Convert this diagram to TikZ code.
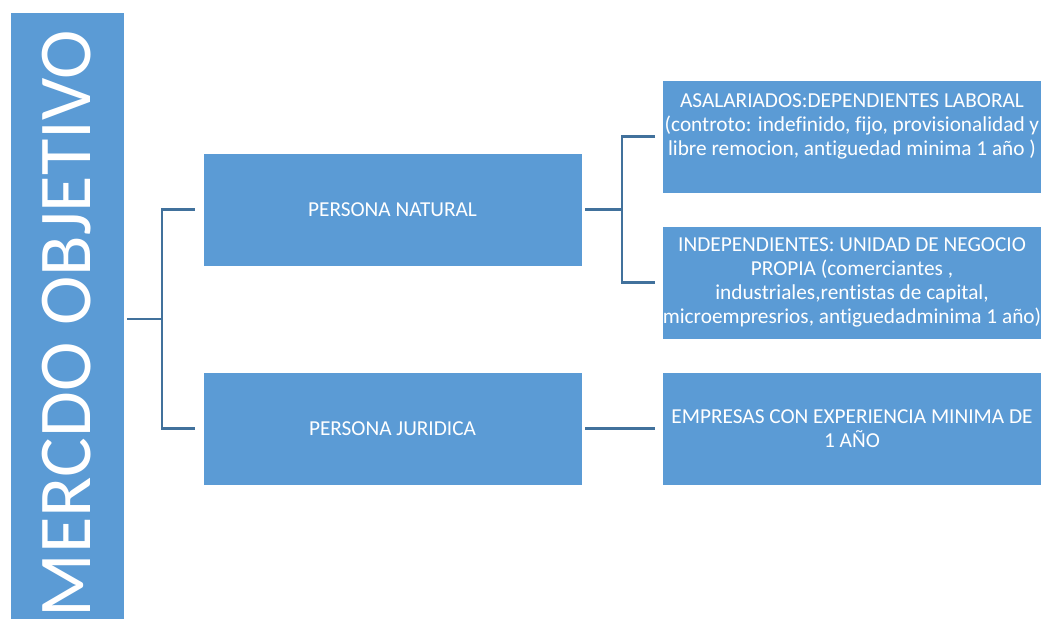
\documentclass[tikz,border=0pt]{standalone}
\usepackage{fontspec}
\setmainfont{Carlito}[Ligatures=NoCommon]
\usepackage{tikz}
\usetikzlibrary{positioning, calc}
\definecolor{boxblue}{HTML}{5B9BD5}
\definecolor{lineblue}{HTML}{41719C}

\begin{document}
\begin{tikzpicture}[
      x=1pt, y=-1pt,
      box/.style={fill=boxblue, draw=white, line width=0.6pt, text=white,
                  minimum width=379pt, minimum height=113pt, inner sep=0pt,
                  align=center, font=\fontsize{21.3}{24}\selectfont},
      link/.style={draw=lineblue, line width=2.4pt},
    ]
    \useasboundingbox (0,0) rectangle (1043,621);

    \node[box, minimum width=114pt, minimum height=607pt,
          font=\fontsize{74.5}{80}\selectfont] (mercado) at (67,315.5)
      {\rotatebox{90}{MERCDO OBJETIVO\kern16pt}};

    \node[box] (natural)  at (392.5,209.5) {PERSONA NATURAL};
    \node[box] (juridica) at (392.5,428.5) {PERSONA JURIDICA};

    \node[box] (asalariados) at (852,136.5)
      {ASALARIADOS:DEPENDIENTES LABORAL\\
       (controto: indefinido, fijo, provisionalidad y\\
       libre remocion, antiguedad minima 1 año )\\ \mbox{}};
    \node[box] (independientes) at (852,282.5)
      {INDEPENDIENTES: UNIDAD DE NEGOCIO\\
       PROPIA (comerciantes ,\\
       industriales,rentistas de capital,\\
       microempresrios, antiguedadminima 1 año)};
    \node[box] (empresas) at (852,428.5)
      {EMPRESAS CON EXPERIENCIA MINIMA DE\\1 AÑO};

    % branch points of the two brackets
    \coordinate (forkA) at (162,319);
    \coordinate (forkB) at (622,209.5);

    \draw[link, shorten <=3pt] (mercado.east |- forkA) -- (forkA);
    \draw[link, shorten <=8pt, shorten >=8pt] (natural.west) -| (forkA) |- (juridica.west);

    \draw[link, shorten <=3pt] (natural.east) -- (forkB);
    \draw[link, shorten <=7pt, shorten >=7pt] (asalariados.west) -| (forkB) |- (independientes.west);
    \draw[link, shorten <=3pt, shorten >=7pt] (juridica.east) -- (empresas.west);
  \end{tikzpicture}
\end{document}
